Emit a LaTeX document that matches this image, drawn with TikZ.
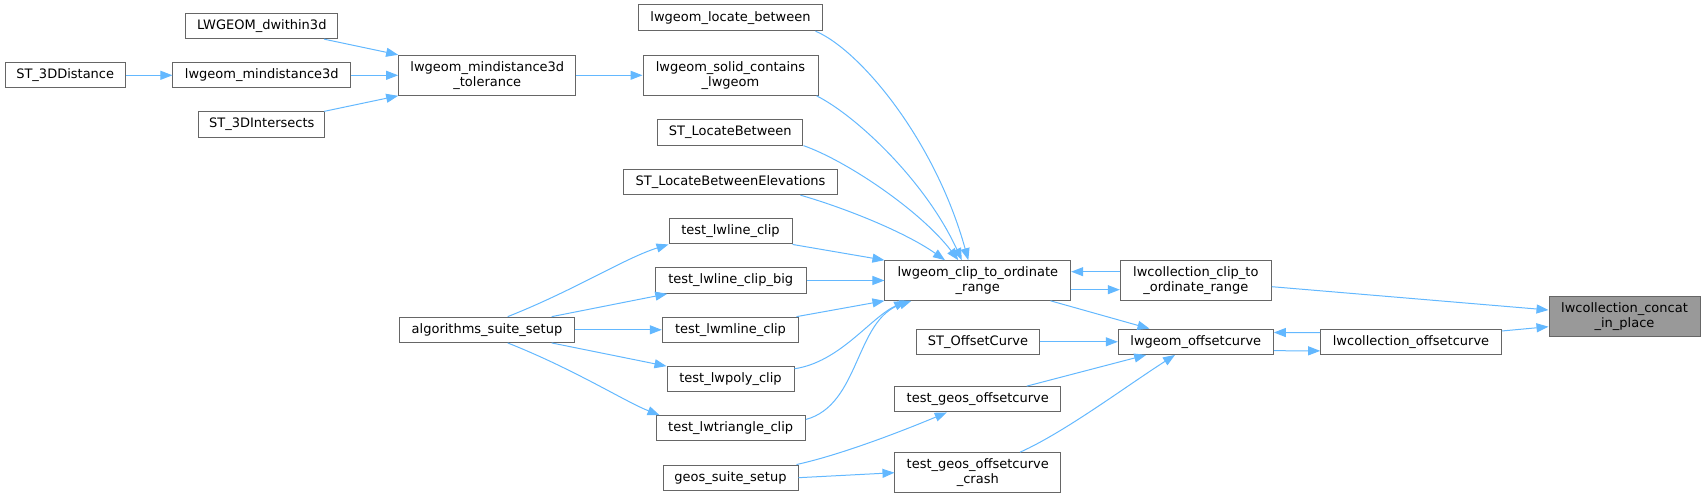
\documentclass[tikz,border=0pt]{standalone}
\usepackage{fontspec}
\setmainfont{DejaVu Sans}
\usetikzlibrary{arrows.meta,calc}
\definecolor{edgeblue}{HTML}{63B8FF}
\definecolor{boxgray}{HTML}{666666}
\definecolor{focusgray}{HTML}{999999}
\tikzset{
  nb/.style 2 args={draw=boxgray, fill=white, line width=0.75pt, inner sep=0pt,
    align=center, font=\fontsize{9.75}{11}\selectfont,
    minimum width=#1*0.75pt, minimum height=#2*0.75pt},
  focus/.style={fill=focusgray},
  ed/.style={draw=edgeblue, line width=0.75pt, -{Triangle[length=9pt,width=6.75pt]}}
}
\begin{document}
\begin{tikzpicture}[x=0.75pt,y=-0.75pt]
\useasboundingbox (0,0) rectangle (1705,498);
% nodes
\node[nb={152.3}{25.3}] (dwithin) at (261.8,26) {LWGEOM\_dwithin3d};
\node[nb={120.3}{25.3}] (stdist) at (65.2,75.3) {ST\_3DDistance};
\node[nb={177.7}{25.3}] (mind) at (261.8,75.3) {lwgeom\_mindistance3d};
\node[nb={126.3}{25.3}] (stint) at (261.8,124.5) {ST\_3DIntersects};
\node[nb={177.3}{40}] (tol) at (487.3,75.3) {lwgeom\_mindistance3d\\\_tolerance};
\node[nb={174.6}{25.3}] (algo) at (487,329.8) {algorithms\_suite\_setup};
\node[nb={184.4}{25.7}] (locbet) at (730.5,17.8) {lwgeom\_locate\_between};
\node[nb={175}{40}] (solid) at (730.5,75.3) {lwgeom\_solid\_contains\\\_lwgeom};
\node[nb={145.3}{25.3}] (stlb) at (730.3,132.5) {ST\_LocateBetween};
\node[nb={213.6}{25.4}] (stlbe) at (730.5,182) {ST\_LocateBetweenElevations};
\node[nb={123}{25.3}] (tlc) at (730.5,231.3) {test\_lwline\_clip};
\node[nb={150.7}{25.6}] (tlcb) at (730.7,280.5) {test\_lwline\_clip\_big};
\node[nb={136.4}{25.3}] (tlmc) at (730.5,329.8) {test\_lwmline\_clip};
\node[nb={127}{25.3}] (tlpc) at (730.5,379.3) {test\_lwpoly\_clip};
\node[nb={149.3}{25.3}] (tltc) at (730.7,428.3) {test\_lwtriangle\_clip};
\node[nb={135}{25.3}] (geos) at (730.5,477.7) {geos\_suite\_setup};
\node[nb={185.7}{39.6}] (clip) at (977.8,280.5) {lwgeom\_clip\_to\_ordinate\\\_range};
\node[nb={122.6}{25.3}] (stoff) at (978,341.8) {ST\_OffsetCurve};
\node[nb={165.7}{25.3}] (tgo) at (977.8,399.3) {test\_geos\_offsetcurve};
\node[nb={165.7}{40}] (tgoc) at (977.8,472.7) {test\_geos\_offsetcurve\\\_crash};
\node[nb={151}{39.6}] (colclip) at (1195.8,280.5) {lwcollection\_clip\_to\\\_ordinate\_range};
\node[nb={155}{25.3}] (lwoff) at (1195.8,341.8) {lwgeom\_offsetcurve};
\node[nb={180.6}{25.4}] (coloff) at (1411,342) {lwcollection\_offsetcurve};
\node[nb={151}{40.4},focus] (concat) at (1624.5,316.5) {lwcollection\_concat\\\_in\_place};
% edges, left part
\draw[ed] (stdist) -- (mind);
\draw[ed] (dwithin) -- (tol.north west);
\draw[ed] (mind) -- (tol);
\draw[ed] (stint) -- (tol.south west);
\draw[ed] (tol) -- (solid);
% algorithms_suite_setup
\draw[ed] ($(algo.north)+(20.7,0)$) .. controls (575,290) and (625,258) .. (tlc.south west);
\draw[ed] ($(algo.north)+(64.7,0)$) -- ($(tlcb.south west)+(12.4,0)$);
\draw[ed] (algo) -- (tlmc);
\draw[ed] ($(algo.south)+(64.7,0)$) -- (tlpc.north west);
\draw[ed] ($(algo.south)+(20.7,0)$) .. controls (575,369.6) and (625,401.6) .. ($(tltc.north west)+(4,0)$);
% geos_suite_setup
\draw[ed] ($(geos.north east)+(-2,0)$) .. controls (840,455) and (900,432) .. ($(tgo.south)+(-31,0)$);
\draw[ed] (geos.east) -- (tgoc.west);
% into lwgeom_clip_to_ordinate_range
\draw[ed] ($(locbet.south east)+(-7.7,0)$) .. controls (860,50) and (935,140) .. ($(clip.north)+(-9.5,0)$);
\draw[ed] ($(solid.south east)+(-2,0)$) .. controls (855,115) and (925,180) .. ($(clip.north)+(-16,0)$);
\draw[ed] (stlb.south east) .. controls (845,160) and (920,210) .. ($(clip.north)+(-19.5,0)$);
\draw[ed] ($(stlbe.south east)+(-37.3,0)$) .. controls (845,208) and (905,232) .. ($(clip.north)+(-32.8,0)$);
\draw[ed] (tlc.south east) -- (clip.north west);
\draw[ed] (tlcb) -- (clip);
\draw[ed] ($(tlmc.north east)+(-2.7,0)$) -- (clip.south west);
\draw[ed] ($(tlpc.north east)+(0,2.6)$) .. controls (840,362) and (870,318) .. ($(clip.south west)+(21.7,0)$);
\draw[ed] ($(tltc.north east)+(0,4.3)$) .. controls (860,405) and (855,320) .. ($(clip.south west)+(27,0)$);
% clip <-> collection clip
\draw[ed] ($(colclip.west)+(0,-8.8)$) -- ($(clip.east)+(0,-8.8)$);
\draw[ed] ($(clip.east)+(0,9.2)$) -- ($(colclip.west)+(0,9.2)$);
% into lwgeom_offsetcurve
\draw[ed] ($(clip.south east)+(-20.7,0)$) -- ($(lwoff.north west)+(31.7,0)$);
\draw[ed] (stoff) -- (lwoff);
\draw[ed] ($(tgo.north)+(48.9,0)$) -- ($(lwoff.south west)+(28.4,0)$);
\draw[ed] ($(tgoc.north)+(42.2,0)$) .. controls (1065,432) and (1125,387) .. ($(lwoff.south)+(-20.8,0)$);
% offsetcurve <-> collection offsetcurve
\draw[ed] ($(coloff.west)+(0,-9.3)$) -- ($(lwoff.east)+(0,-9.3)$);
\draw[ed] ($(lwoff.east)+(0,8.9)$) -- ($(coloff.west)+(0,8.9)$);
% into concat
\draw[ed] ($(colclip.east)+(0,6.2)$) -- ($(concat.west)+(0,-6.5)$);
\draw[ed] ($(coloff.east)+(0,-11)$) -- ($(concat.west)+(0,10.2)$);
\end{tikzpicture}
\end{document}
